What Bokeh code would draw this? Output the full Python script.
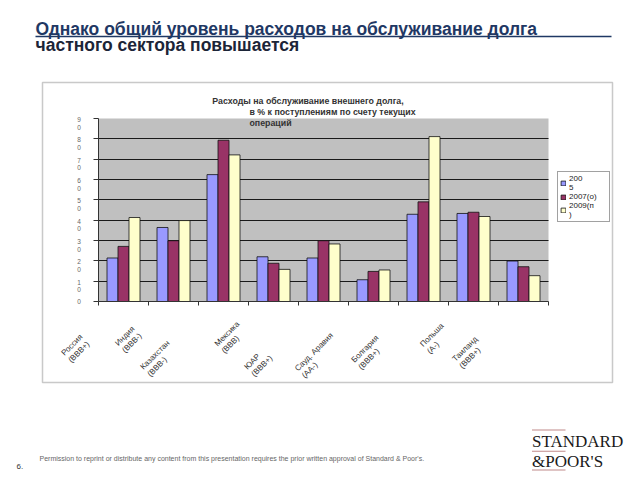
import numpy as np
from bokeh.plotting import figure
from bokeh.models import (Range1d, FixedTicker, ColumnDataSource, LabelSet, Label,
                          BoxAnnotation, Legend, LegendItem)
from bokeh.transform import dodge
from bokeh.core.properties import value
from bokeh.embed import file_html
from bokeh.resources import INLINE

# ---------------- data ----------------
categories = ["Россия\n(BBB+)", "Индия\n(BBB-)", "Казахстан\n(BBB-)", "Мексика\n(BBB)",
              "ЮАР\n(BBB+)", "Сауд. Аравия\n(AA-)", "Болгария\n(BBB+)", "Польша\n(A-)",
              "Таиланд\n(BBB+)"]
series_names = ["200\n5", "2007(о)", "2009(п\n)"]
v2005 = [21.4, 36.4, 62.4, 22.0, 21.4, 10.7, 42.9, 43.3, 19.9]
v2007 = [27.1, 29.9, 79.3, 18.8, 29.9, 14.8, 49.0, 43.9, 17.1]
v2009 = [41.3, 39.8, 72.1, 15.8, 28.3, 15.5, 81.1, 41.8, 12.7]
y_ticks = [0, 10, 20, 30, 40, 50, 60, 70, 80, 90]
y_tick_labels = ["0", "1\n0", "2\n0", "3\n0", "4\n0", "5\n0", "6\n0", "7\n0", "8\n0", "9\n0"]

page_title_1 = "Однако общий уровень расходов на обслуживание долга"
page_title_2 = "частного сектора повышается"
chart_title_1 = "Расходы на обслуживание внешнего долга,"
chart_title_2 = "в %  к поступлениям по счету текущих"
chart_title_3 = "операций"
footer_text = ("Permission to reprint or distribute any content from this presentation "
               "requires the prior written approval of Standard & Poor's.")
page_number = "6."
logo_1 = "STANDARD"
logo_2 = "&POOR'S"

# ---------------- layout / styles ----------------
colors = ["#9999FF", "#993366", "#FFFFCC"]
bar_w = 0.22
cat_dx = [-48, -45, -65, -43, -65, -56, -55, -38, -55]
cat_dy = [-47, -38, -57, -36, -61, -54, -51, -37, -51]

W, H = 640, 480
PL, PR, PT, PB = 98, 548, 118, 301      # plot area on the page, px
NX = len(categories)
YMAX = y_ticks[-1]
SX = (PR - PL) / NX
SY = (PB - PT) / YMAX

def dx(px):   # page px -> data x
    return (px - PL) / SX

def dy(py):   # page px -> data y
    return (PB - py) / SY

p = figure(width=W, height=H,
           x_range=Range1d(dx(0), dx(W)), y_range=Range1d(dy(H), dy(0)),
           output_backend="svg", toolbar_location=None,
           min_border=0, min_border_left=0, min_border_right=0,
           min_border_top=0, min_border_bottom=0,
           background_fill_color="white", border_fill_color="white",
           outline_line_color=None)

# plot area background
p.add_layout(BoxAnnotation(left=0, right=NX, bottom=0, top=YMAX,
                           fill_color="#C0C0C0", fill_alpha=1, line_color=None,
                           level="image"))

# grid
p.xgrid.visible = False
p.ygrid.ticker = FixedTicker(ticks=y_ticks[1:-1])
p.ygrid.grid_line_color = "#1a1a1a"
p.ygrid.grid_line_width = 1
try:
    p.ygrid.cross_bounds = (0, NX)
except Exception:
    p.ygrid.visible = False
    p.segment(x0=0, x1=NX, y0=y_ticks[1:-1], y1=y_ticks[1:-1],
              line_color="#1a1a1a", line_width=1)

# axes
p.yaxis.fixed_location = 0
p.yaxis.bounds = (0, YMAX)
p.yaxis.ticker = FixedTicker(ticks=y_ticks)
p.yaxis.major_label_overrides = {t: "" for t in y_ticks}
p.yaxis.axis_line_color = "#333333"
p.yaxis.major_tick_line_color = "#333333"
p.yaxis.major_tick_out = 5
p.yaxis.major_tick_in = 0
p.yaxis.minor_tick_out = 0
p.yaxis.minor_tick_in = 0

x_bounds = list(range(NX + 1))
p.xaxis.fixed_location = 0
p.xaxis.bounds = (0, NX)
p.xaxis.ticker = FixedTicker(ticks=x_bounds)
p.xaxis.major_label_overrides = {t: "" for t in x_bounds}
p.xaxis.axis_line_color = "#333333"
p.xaxis.major_tick_line_color = "#333333"
p.xaxis.major_tick_out = 4
p.xaxis.major_tick_in = 0
p.xaxis.minor_tick_out = 0
p.xaxis.minor_tick_in = 0

src = ColumnDataSource(dict(
    x=np.arange(NX) + 0.5,
    v2005=v2005, v2007=v2007, v2009=v2009,
    cat=categories, cdx=cat_dx, cdy=cat_dy,
))

renderers = []
for i, (col, c) in enumerate(zip(["v2005", "v2007", "v2009"], colors)):
    r = p.vbar(x=dodge("x", (i - 1) * bar_w), top=col, width=bar_w, source=src,
               fill_color=c, line_color="#111111", line_width=0.8)
    renderers.append(r)

legend = Legend(items=[LegendItem(label=n, renderers=[r]) for n, r in zip(series_names, renderers)],
                location=(557, H - 222),
                border_line_color="#444444", border_line_width=1,
                background_fill_color="white", background_fill_alpha=1,
                label_text_font="Liberation Sans", label_text_font_size="8px",
                label_text_color="#222222", label_text_line_height=1.0,
                glyph_width=6, glyph_height=6, label_standoff=3,
                padding=2, spacing=0, margin=0, label_height=7, label_width=38)
p.add_layout(legend)

# category labels
p.add_layout(LabelSet(x="x", y=0, text="cat", source=src, x_offset="cdx", y_offset="cdy",
                      angle=np.pi / 4, text_align="center", text_baseline="middle",
                      text_font=value("Liberation Sans"), text_font_size="8px",
                      text_color="#333333", text_line_height=1.1))

# y tick labels
ysrc = ColumnDataSource(dict(y=y_ticks, t=y_tick_labels,
                             yo=[0] + [-4.7] * (len(y_ticks) - 1)))
p.add_layout(LabelSet(x=0, y="y", text="t", source=ysrc, x_offset=-19.5, y_offset="yo",
                      text_align="center", text_baseline="middle",
                      text_font=value("Liberation Sans"), text_font_size="6.5px",
                      text_color="#666666", text_line_height=1.1))

# chart title (inside chart box)
ct = dict(text_font="Liberation Sans", text_font_style="bold", text_font_size="8.8px",
          text_color="#333333", text_baseline="middle")
p.add_layout(Label(x=dx(307.5), y=dy(100), text=chart_title_1, text_align="center", **ct))
p.add_layout(Label(x=dx(249), y=dy(111), text=chart_title_2, text_align="left", **ct))
p.add_layout(Label(x=dx(249), y=dy(122.5), text=chart_title_3, text_align="left", **ct))

# chart box
p.add_layout(BoxAnnotation(left=dx(42), right=dx(612), top=dy(82), bottom=dy(382),
                           fill_alpha=0, line_color="#4d4d4d", line_width=1.5))

# page title
p.add_layout(Label(x=dx(35), y=dy(28), text=page_title_1, text_align="left",
                   text_baseline="middle", text_font="Liberation Sans",
                   text_font_style="bold", text_font_size="17.5px", text_color="#1F3864"))
p.add_layout(Label(x=dx(35), y=dy(44.5), text=page_title_2, text_align="left",
                   text_baseline="middle", text_font="Liberation Sans",
                   text_font_style="bold", text_font_size="17.5px", text_color="#1C2538"))
p.add_layout(BoxAnnotation(left=dx(35), right=dx(611), top=dy(35.2), bottom=dy(36.7),
                           fill_color="#1F3864", fill_alpha=1, line_color=None))

# footer
p.add_layout(Label(x=dx(16), y=dy(466), text=page_number, text_align="left",
                   text_baseline="middle", text_font="Liberation Sans",
                   text_font_size="8px", text_color="#333333"))
p.add_layout(Label(x=dx(39), y=dy(458), text=footer_text, text_align="left",
                   text_baseline="middle", text_font="Liberation Sans",
                   text_font_size="7px", text_color="#666666"))

# S&P logo
for yy in (429.5, 450.7, 469.5):
    p.add_layout(BoxAnnotation(left=dx(531.5), right=dx(565), top=dy(yy - 0.5), bottom=dy(yy + 0.5),
                               fill_color="#C08A8A", fill_alpha=1, line_color=None))
p.add_layout(Label(x=dx(531.5), y=dy(441), text=logo_1, text_align="left",
                   text_baseline="middle", text_font="Liberation Serif",
                   text_font_size="17px", text_color="#1a1a1a"))
p.add_layout(Label(x=dx(531.5), y=dy(461), text=logo_2, text_align="left",
                   text_baseline="middle", text_font="Liberation Serif",
                   text_font_size="17px", text_color="#1a1a1a"))

open("out.html", "w").write(file_html(p, INLINE))
